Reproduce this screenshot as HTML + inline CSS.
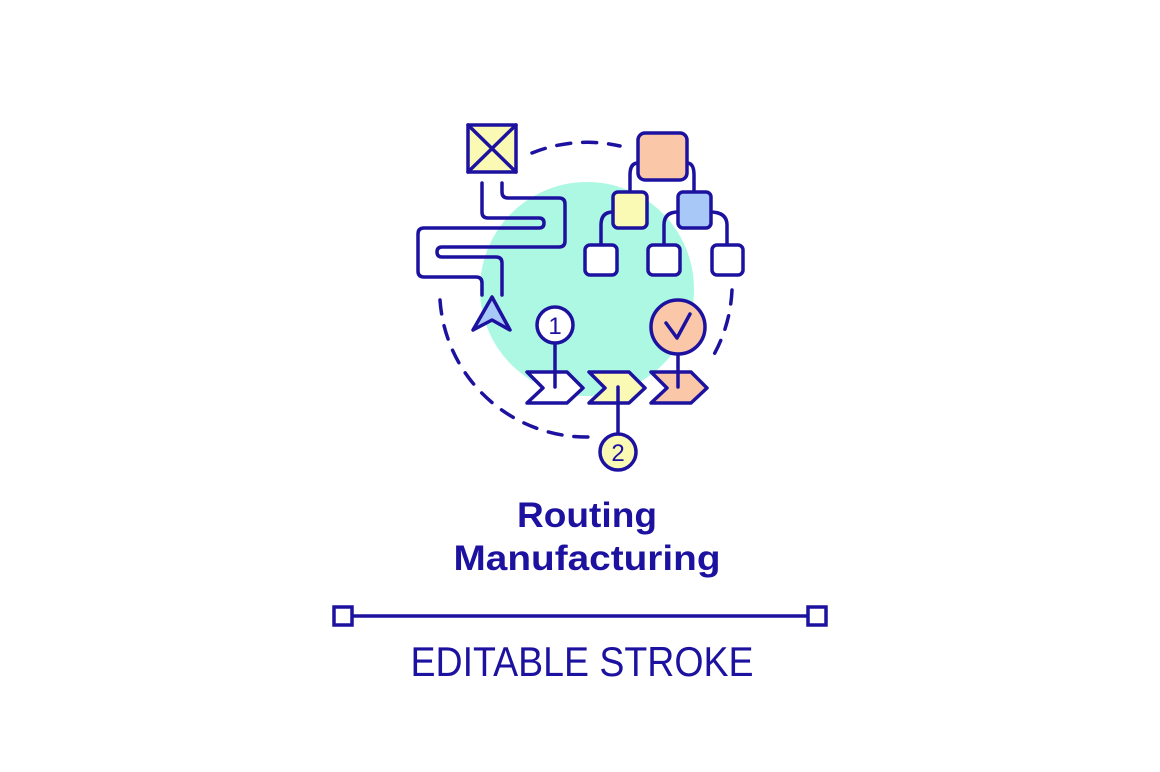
<!DOCTYPE html>
<html><head><meta charset="utf-8"><style>
html,body{margin:0;padding:0;background:#fff;}
svg{display:block}
</style></head><body>
<svg width="1160" height="772" viewBox="0 0 1160 772" xmlns="http://www.w3.org/2000/svg">
<g fill="none" stroke="#1d12a0" stroke-width="3.5" stroke-linecap="round" stroke-linejoin="round">
<circle cx="587" cy="289" r="107" fill="#adf8e2" stroke="none"/>
<path d="M532 153 A147 147 0 0 1 620 146" stroke-dasharray="14 12"/>
<path d="M732 290 A147 147 0 0 1 712 358" stroke-dasharray="14 12"/>
<path d="M440 300 A147 147 0 0 0 590 437" stroke-dasharray="14 12"/>
<rect x="468" y="125" width="48" height="47" fill="#fafab4"/>
<path d="M468 125 L516 172 M516 125 L468 172"/>
<path d="M482 183 V212 Q482 218 488 218 H539 Q544 218 544 223 Q544 228 539 228 H424 Q418 228 418 234 V271 Q418 277 424 277 H476 Q482 277 482 283 V295"/>
<path d="M502 183 V192 Q502 198 508 198 H559 Q565 198 565 204 V241 Q565 247 559 247 H442 Q437 247 437 252 Q437 257 442 257 H496 Q502 257 502 263 V295"/>
<path d="M492 297 L510 330 L492 320 L473 330 Z" fill="#a8c8f8"/>
<path d="M638 163 Q630 163 630 175 V192"/>
<path d="M687 163 Q694 163 694 175 V192"/>
<path d="M613 212 Q601 212 601 225 V245"/>
<path d="M678 212 Q664 212 664 225 V245"/>
<path d="M710 212 Q727 212 727 225 V245"/>
<rect x="638" y="133" width="49" height="47" rx="7" fill="#fac8a8"/>
<rect x="613" y="192" width="34" height="36" rx="5" fill="#fafab4"/>
<rect x="678" y="192" width="33" height="36" rx="5" fill="#a8c8f8"/>
<rect x="585" y="245" width="32" height="30" rx="5" fill="#fff"/>
<rect x="648" y="245" width="32" height="30" rx="5" fill="#fff"/>
<rect x="712" y="245" width="31" height="30" rx="5" fill="#fff"/>
<path d="M527 372 H567 L583 388 L567 403 H527 L543 388 Z" fill="#fff"/>
<path d="M589 372 H629 L645 388 L629 403 H589 L605 388 Z" fill="#fafab4"/>
<path d="M651 372 H691 L707 388 L691 403 H651 L667 388 Z" fill="#fac8a8"/>
<path d="M555 343 V387"/>
<circle cx="555" cy="325" r="18" fill="#fff"/>
<path d="M678 354 V387"/>
<circle cx="678" cy="327" r="27" fill="#fac8a8"/>
<path d="M666 323 L677 338 L690 314"/>
<path d="M618 387 V434"/>
<circle cx="618" cy="452" r="18" fill="#fafab4"/>
</g>
<g font-family="Liberation Sans, sans-serif" fill="#1d12a0" text-anchor="middle">
<text x="555" y="334" font-size="24">1</text>
<text x="618" y="461" font-size="24">2</text>
<text x="587" y="527" font-size="35" font-weight="bold" textLength="140" lengthAdjust="spacingAndGlyphs">Routing</text>
<text x="587" y="570" font-size="35" font-weight="bold" textLength="267" lengthAdjust="spacingAndGlyphs">Manufacturing</text>
<text x="582" y="676" font-size="42" textLength="343" lengthAdjust="spacingAndGlyphs">EDITABLE STROKE</text>
</g>
<g fill="#fff" stroke="#1d12a0" stroke-width="3.5">
<line x1="353" y1="616" x2="807" y2="616"/>
<rect x="334" y="607" width="18" height="18"/>
<rect x="808" y="607" width="18" height="18"/>
</g>
</svg>
</body></html>
